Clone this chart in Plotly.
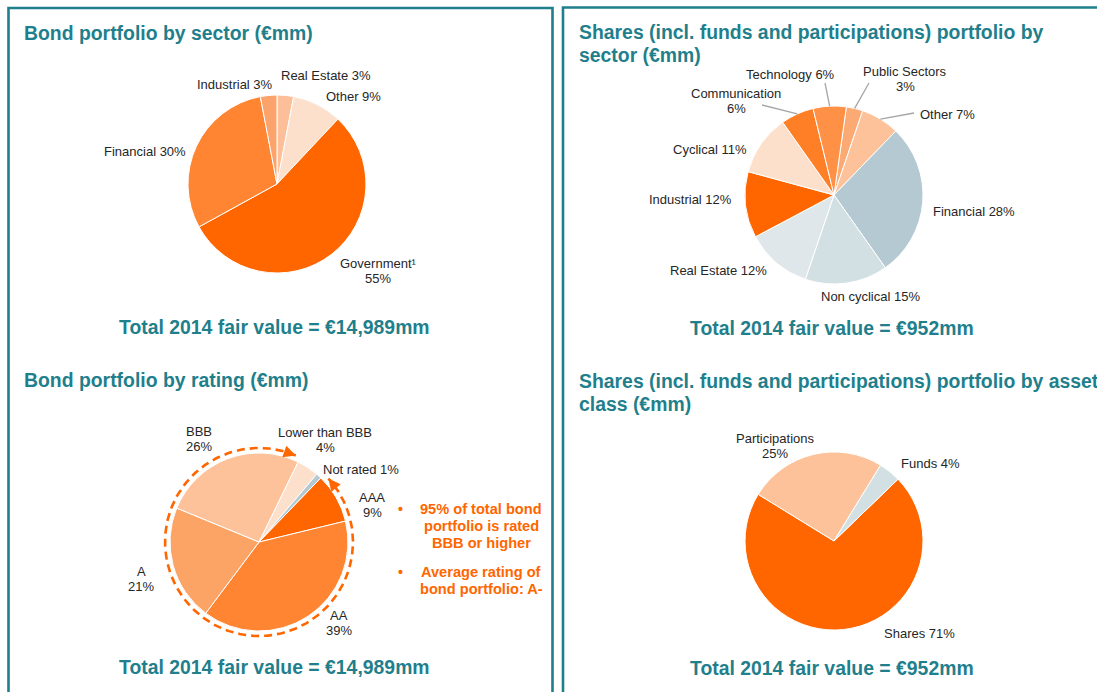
import math
import plotly.graph_objects as go

# the page body margin is removed (post_script below), so figure pixels == screen pixels
W, H = 1097, 692

# ---------------- data ----------------
bond_sector_labels = ["Real Estate", "Other", "Government¹", "Financial", "Industrial"]
bond_sector_values = [3, 9, 55, 30, 3]

share_sector_labels = ["Public Sectors", "Other", "Financial", "Non cyclical", "Real Estate",
                       "Industrial", "Cyclical", "Communication", "Technology"]
share_sector_values = [3, 7, 28, 15, 12, 12, 11, 6, 6]

bond_rating_labels = ["Lower than BBB", "Not rated", "AAA", "AA", "A", "BBB"]
bond_rating_values = [4, 1, 9, 39, 21, 26]

asset_class_labels = ["Shares", "Participations", "Funds"]
asset_class_values = [71, 25, 4]

panel_titles = [
    ["Bond portfolio by sector (€mm)"],
    ["Shares (incl. funds and participations) portfolio by", "sector (€mm)"],
    ["Bond portfolio by rating (€mm)"],
    ["Shares (incl. funds and participations) portfolio by asset", "class (€mm)"],
]
panel_totals = [
    "Total 2014 fair value = €14,989mm",
    "Total 2014 fair value = €952mm",
    "Total 2014 fair value = €14,989mm",
    "Total 2014 fair value = €952mm",
]
rating_notes = [
    ["95% of total bond", "portfolio is rated", "BBB or higher"],
    ["Average rating of", "bond portfolio: A-"],
]
investment_grade = ["AAA", "AA", "A", "BBB"]

# ---------------- styles ----------------
TEAL = "#1f7f8c"
ORANGE = "#ff6600"
LABEL = "#262626"
FONT = "Liberation Sans, Arial, sans-serif"

bond_sector_colors = ["#fdbf99", "#fde0cc", "#ff6600", "#ff8533", "#fca36b"]
share_sector_colors = ["#fcaa74", "#fdc29a", "#b4c9d1", "#d2dfe3", "#dfe7ea",
                       "#ff6600", "#fde0cc", "#ff7f27", "#ff9147"]
bond_rating_colors = ["#fde0cc", "#b4c9d1", "#ff6600", "#ff8533", "#fca366", "#fdc29a"]
asset_class_colors = ["#ff6600", "#fdc29a", "#d2dfe3"]

R = 89
pies = [
    dict(labels=bond_sector_labels, values=bond_sector_values, colors=bond_sector_colors,
         cx=277, cy=184, rot=0),
    dict(labels=share_sector_labels, values=share_sector_values, colors=share_sector_colors,
         cx=834, cy=195, rot=8),
    dict(labels=bond_rating_labels, values=bond_rating_values, colors=bond_rating_colors,
         cx=259, cy=542, rot=26),
    dict(labels=asset_class_labels, values=asset_class_values, colors=asset_class_colors,
         cx=834, cy=541, rot=46),
]

# label placement (x, y of first line centre, number of lines) in pixels
label_pos = [
    {"Industrial": (235, 84, 1), "Real Estate": (326, 75, 1), "Other": (353, 96, 1),
     "Financial": (145, 151, 1), "Government¹": (378, 263, 2)},
    {"Technology": (790, 74, 1), "Public Sectors": (905, 71, 2), "Communication": (736, 93, 2),
     "Other": (947, 114, 1), "Cyclical": (710, 149, 1), "Industrial": (690, 199, 1),
     "Financial": (974, 211, 1), "Real Estate": (718, 270, 1), "Non cyclical": (870, 296, 1)},
    {"BBB": (199, 431, 2), "Lower than BBB": (325, 432, 2), "Not rated": (361, 469, 1),
     "AAA": (372, 497, 2), "A": (141, 571, 2), "AA": (339, 615, 2)},
    {"Participations": (775, 438, 2), "Funds": (930, 463, 1), "Shares": (919, 633, 1)},
]
leader_outer = {"Communication": (762, 105), "Technology": (825, 83),
                "Public Sectors": (869, 83), "Other": (914, 113)}

title_pos = [(22, 33), (577, 32), (22, 380), (577, 381)]
total_pos = [(274, 327), (832, 328), (274, 667), (832, 668)]

fig = go.Figure()
annotations = []
shapes = []


def add_text(x, y, s, size, color, bold=False, xanchor="center"):
    annotations.append(dict(
        x=x, y=y, xref="x", yref="y", text=s, showarrow=False,
        xanchor=xanchor, yanchor="middle",
        font=dict(family=FONT, size=size, color=color, weight="bold" if bold else "normal")))


# pies
for i, p in enumerate(pies):
    cx, cy = p["cx"], p["cy"]
    fig.add_trace(go.Pie(
        labels=p["labels"], values=p["values"], sort=False, direction="clockwise",
        rotation=p["rot"], textinfo="none", hoverinfo="label+percent",
        marker=dict(colors=p["colors"], line=dict(color="white", width=1)),
        domain=dict(x=[(cx - R) / W, (cx + R) / W], y=[1 - (cy + R) / H, 1 - (cy - R) / H]),
        showlegend=False))
    for lab, val in zip(p["labels"], p["values"]):
        x, y, n = label_pos[i][lab]
        lines = [f"{lab} {val}%"] if n == 1 else [lab, f"{val}%"]
        for k, ln in enumerate(lines):
            add_text(x, y + 15 * k, ln, 13, LABEL)

# leader lines in the shares-by-sector pie
p = pies[1]
acc = 0
tot = sum(p["values"])
for lab, val in zip(p["labels"], p["values"]):
    mid = math.radians(p["rot"] + (acc + val / 2) / tot * 360)
    acc += val
    if lab in leader_outer:
        x0 = p["cx"] + R * math.sin(mid)
        y0 = p["cy"] - R * math.cos(mid)
        x1, y1 = leader_outer[lab]
        shapes.append(dict(type="line", xref="x", yref="y", x0=x0, y0=y0, x1=x1, y1=y1,
                           line=dict(color="#a6a6a6", width=1.3)))

# dashed arc around the investment-grade part of the rating pie
p = pies[2]
tot = sum(p["values"])
ig_share = sum(v for l, v in zip(p["labels"], p["values"]) if l in investment_grade) / tot
start_ang = p["rot"]                              # boundary BBB | Lower than BBB
end_ang = p["rot"] + (1 - ig_share) * 360         # boundary Not rated | AAA
RA = 94
a0 = start_ang - 3
a1 = end_ang + 3.6
span = 360 - (a1 - a0)
n = 200
arc_x, arc_y = [], []
for k in range(n + 1):
    a = math.radians(a0 - span * k / n)
    arc_x.append(p["cx"] + RA * math.sin(a))
    arc_y.append(p["cy"] - RA * math.cos(a))
fig.add_trace(go.Scatter(x=arc_x, y=arc_y, mode="lines", hoverinfo="skip", showlegend=False,
                         line=dict(color=ORANGE, width=2.6, dash="8px,5px")))


def arc_pt(a):
    a = math.radians(a)
    return p["cx"] + RA * math.sin(a), p["cy"] - RA * math.cos(a)


for tip_a, tail_a in [(a0, a0 - 7), (a1, a1 + 7)]:
    tx, ty = arc_pt(tip_a)
    sx, sy = arc_pt(tail_a)
    annotations.append(dict(x=tx, y=ty, ax=sx, ay=sy, xref="x", yref="y", axref="x", ayref="y",
                            text="", showarrow=True, arrowhead=2, arrowsize=1.1,
                            arrowwidth=2.2, arrowcolor=ORANGE, standoff=0, startstandoff=0))

# orange notes
note_y = [509, 572]
for block, y in zip(rating_notes, note_y):
    add_text(400, y, "•", 14, ORANGE, bold=True)
    for k, ln in enumerate(block):
        add_text(481, y + 17 * k, ln, 14.6, ORANGE, bold=True)

# titles and totals
for lines, (x, y) in zip(panel_titles, title_pos):
    for k, ln in enumerate(lines):
        add_text(x, y + 23 * k, ln, 19.4, TEAL, bold=True, xanchor="left")
for s, (x, y) in zip(panel_totals, total_pos):
    add_text(x, y, s, 19.4, TEAL, bold=True)

# panel frames
shapes.append(dict(type="rect", xref="x", yref="y", x0=8.5, y0=8, x1=552.5, y1=720,
                   line=dict(color=TEAL, width=2.6)))
shapes.append(dict(type="rect", xref="x", yref="y", x0=563, y0=7.5, x1=1120, y1=720,
                   line=dict(color=TEAL, width=2.6)))

fig.update_layout(
    width=W, height=H, margin=dict(l=0, r=0, t=0, b=0),
    paper_bgcolor="white", plot_bgcolor="white",
    xaxis=dict(range=[0, W], visible=False, fixedrange=True),
    yaxis=dict(range=[H, 0], visible=False, fixedrange=True),
    annotations=annotations, shapes=shapes, showlegend=False,
)

fig.write_html("out.html", config={"displayModeBar": False},
               post_script="document.body.style.margin='0';document.body.style.overflow='hidden';")
